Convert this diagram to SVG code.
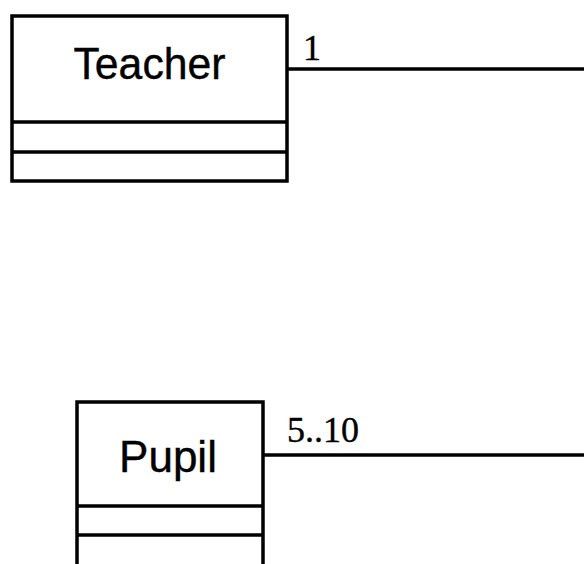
<svg xmlns="http://www.w3.org/2000/svg" width="584" height="564" viewBox="0 0 584 564">
<style>
.box{fill:#fff;stroke:#000;stroke-width:3.5}
.sep{stroke:#000;stroke-width:3.5}
.name{font-family:"Liberation Sans",Arial,sans-serif;font-size:44px;text-anchor:middle;fill:#000;stroke:#000;stroke-width:0.4}
.mult{font-family:"Liberation Serif","Times New Roman",serif;font-size:36px;fill:#000;stroke:#000;stroke-width:0.4}
.conn{stroke:#000;stroke-width:3.5;fill:none}
</style>
<rect width="584" height="564" fill="#fff"/>
<g id="connectors">
<line class="conn" x1="287" y1="69" x2="584" y2="69"/>
<line class="conn" x1="263" y1="455" x2="584" y2="455"/>
<text class="mult" x="303" y="60">1</text>
<text class="mult" x="287" y="442">5..10</text>
</g>
<g id="teacher">
<rect class="box" x="12" y="16" width="275" height="165"/>
<line class="sep" x1="12" y1="122" x2="287" y2="122"/>
<line class="sep" x1="12" y1="152" x2="287" y2="152"/>
<text class="name" x="149.5" y="79" textLength="152" lengthAdjust="spacingAndGlyphs">Teacher</text>
</g>
<g id="pupil">
<rect class="box" x="77" y="402" width="186" height="175"/>
<line class="sep" x1="77" y1="506" x2="263" y2="506"/>
<line class="sep" x1="77" y1="535" x2="263" y2="535"/>
<text class="name" x="168" y="472">Pupil</text>
</g>
</svg>
